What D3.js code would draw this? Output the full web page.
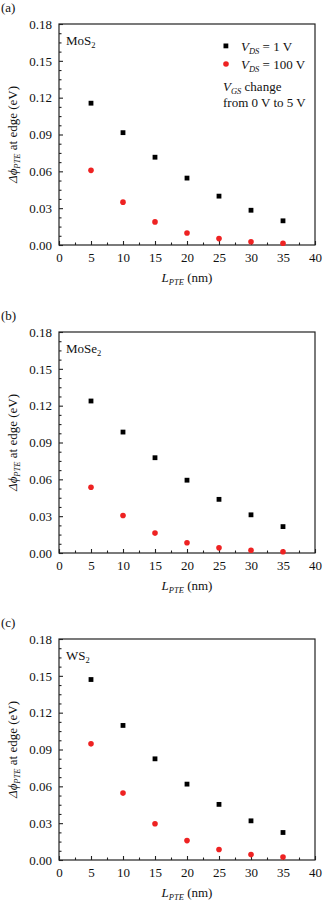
<!DOCTYPE html>
<html>
<head>
	<script src="https://d3js.org/d3.v7.min.js"></script>
	<style>
		body { margin: 0; background: #fff; }
		svg text { font-family: "Liberation Serif", "Times New Roman", serif; fill: #111; }
	</style>
</head>
<body>
<svg id="container"></svg>
</body>
<script>
// data
let lengths = [5, 10, 15, 20, 25, 30, 35];
let panelNames = ['(a)', '(b)', '(c)'];
let materials = [['MoS', '2'], ['MoSe', '2'], ['WS', '2']];
let vds1 = [
	[0.1155, 0.0915, 0.0715, 0.0545, 0.0398, 0.0283, 0.0197],
	[0.1238, 0.0985, 0.0776, 0.0593, 0.0437, 0.0311, 0.0215],
	[0.1470, 0.1096, 0.0824, 0.0618, 0.0453, 0.0319, 0.0224]
];
let vds100 = [
	[0.0608, 0.0349, 0.0188, 0.0098, 0.0052, 0.0027, 0.0014],
	[0.0535, 0.0305, 0.0162, 0.0084, 0.0042, 0.0022, 0.0010],
	[0.0946, 0.0545, 0.0295, 0.0158, 0.0085, 0.0044, 0.0025]
];
let xTicks = [0, 5, 10, 15, 20, 25, 30, 35, 40];
let yTicks = [0, 0.03, 0.06, 0.09, 0.12, 0.15, 0.18];
</script>

<script>
let svg = d3.select('#container')
	.attr('width', 323)
	.attr('height', 901)
	.attr('font-family', '"Liberation Serif", serif');

let tops = [24, 332, 639];
let left = 59, right = 315, h = 221;
let fs = 13;

let x = d3.scaleLinear().domain([0, 40]).range([left, right]);

let drawPanel = function(i) {
	let top = tops[i];
	let y = d3.scaleLinear().domain([0, 0.18]).range([top + h, top]);
	let g = svg.append('g');

	// panel letter
	g.append('text')
		.attr('x', 1).attr('y', top - 12)
		.attr('font-size', fs)
		.text(panelNames[i]);

	// frame
	g.append('rect')
		.attr('x', left).attr('y', top)
		.attr('width', right - left).attr('height', h)
		.attr('fill', 'none')
		.attr('stroke', '#222')
		.attr('stroke-width', 1.2);

	// axes with inward ticks
	let xAxis = d3.axisBottom(x).tickValues(xTicks).tickSize(-4).tickPadding(8).tickFormat(d3.format('d'));
	let xMinor = d3.axisBottom(x).tickValues(d3.range(2.5, 40, 5)).tickSize(-2.5).tickFormat('');
	let yAxis = d3.axisLeft(y).tickValues(yTicks).tickSize(-4).tickPadding(7).tickFormat(d3.format('.2f'));
	let yMinor = d3.axisLeft(y).tickValues(d3.range(0, 24).map(k => k * 0.0075).filter(v => Math.round(v * 10000) % 300 !== 0))
		.tickSize(-2.5).tickFormat('');

	[xAxis, xMinor].forEach(a => {
		g.append('g').attr('transform', `translate(0,${top + h})`).call(a)
			.attr('font-family', null)
			.call(s => s.select('.domain').remove());
	});
	[yAxis, yMinor].forEach(a => {
		g.append('g').attr('transform', `translate(${left},0)`).call(a)
			.attr('font-family', null)
			.call(s => s.select('.domain').remove());
	});
	g.selectAll('.tick line').attr('stroke', '#222').attr('stroke-width', 1.1);
	g.selectAll('.tick text')
		.attr('font-size', fs)
		.attr('fill', '#111');

	// material label
	let mt = g.append('text')
		.attr('x', 66).attr('y', top + 21)
		.attr('font-size', fs);
	mt.append('tspan').text(materials[i][0]);
	mt.append('tspan').attr('dy', 3).attr('font-size', 8.5).text(materials[i][1]);

	// x label
	let xl = g.append('text')
		.attr('x', (left + right) / 2).attr('y', top + h + 37)
		.attr('text-anchor', 'middle')
		.attr('font-size', fs);
	xl.append('tspan').attr('font-style', 'italic').text('L');
	xl.append('tspan').attr('font-style', 'italic').attr('font-size', 8.5).attr('dy', 3).text('PTE');
	xl.append('tspan').attr('dy', -3).text(' (nm)');

	// y label
	let yl = g.append('text')
		.attr('transform', `translate(17,${top + h / 2}) rotate(-90)`)
		.attr('text-anchor', 'middle')
		.attr('font-size', fs);
	yl.append('tspan').attr('font-style', 'italic').text('Δϕ');
	yl.append('tspan').attr('font-style', 'italic').attr('font-size', 8.5).attr('dy', 3).text('PTE');
	yl.append('tspan').attr('dy', -3).text(' at edge (eV)');

	// points
	g.selectAll('.sq').data(lengths.map((l, k) => [l, vds1[i][k]]))
		.enter().append('rect')
		.attr('x', d => x(d[0]) - 2.4)
		.attr('y', d => y(d[1]) - 2.4)
		.attr('width', 4.8).attr('height', 4.8)
		.attr('fill', '#000');
	g.selectAll('.dot').data(lengths.map((l, k) => [l, vds100[i][k]]))
		.enter().append('circle')
		.attr('cx', d => x(d[0]))
		.attr('cy', d => y(d[1]))
		.attr('r', 2.8)
		.attr('fill', '#ee2222');

	// legend only in (a)
	if (i === 0) {
		g.append('rect').attr('x', 223.5).attr('y', 43.5).attr('width', 4.8).attr('height', 4.8).attr('fill', '#000');
		g.append('circle').attr('cx', 226).attr('cy', 64).attr('r', 2.8).attr('fill', '#ee2222');
		[['1 V', 50.5], ['100 V', 68.5]].forEach(e => {
			let t = g.append('text').attr('x', 241).attr('y', e[1]).attr('font-size', fs);
			t.append('tspan').attr('font-style', 'italic').text('V');
			t.append('tspan').attr('font-style', 'italic').attr('font-size', 8.5).attr('dy', 3).text('DS');
			t.append('tspan').attr('dy', -3).text(' = ' + e[0]);
		});
		let t2 = g.append('text').attr('x', 223).attr('y', 91).attr('font-size', fs);
		t2.append('tspan').attr('font-style', 'italic').text('V');
		t2.append('tspan').attr('font-style', 'italic').attr('font-size', 8.5).attr('dy', 3).text('GS');
		t2.append('tspan').attr('dy', -3).text(' change');
		g.append('text').attr('x', 223).attr('y', 107).attr('font-size', fs).text('from 0 V to 5 V');
	}
};

[0, 1, 2].forEach(drawPanel);
</script>
</html>
